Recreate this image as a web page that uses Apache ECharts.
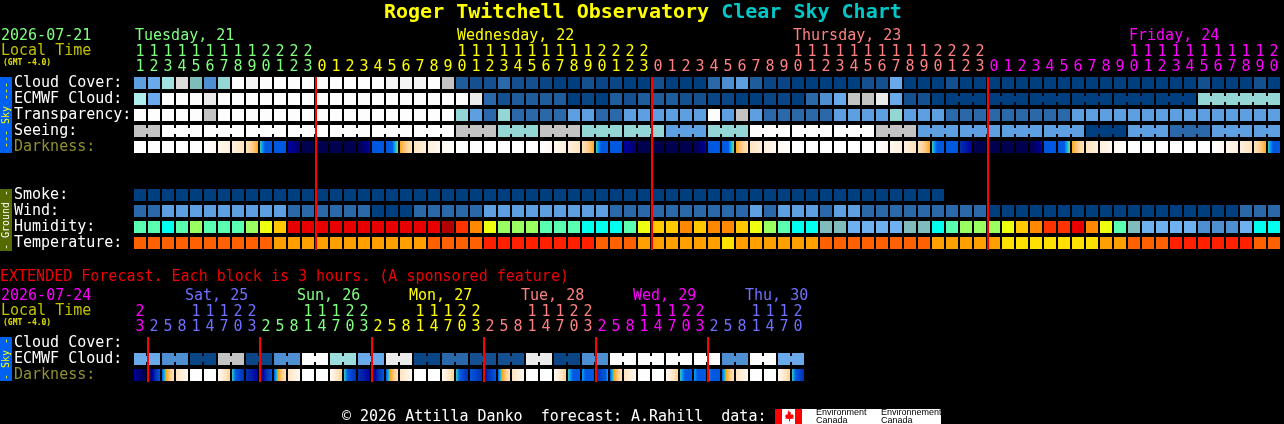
<!DOCTYPE html>
<html><head><meta charset="utf-8">
<style>html,body{margin:0;padding:0;background:#000}#c{width:1284px;height:424px}</style>
<script src="https://cdn.jsdelivr.net/npm/echarts@6/dist/echarts.min.js"></script>
</head><body><div id="c"></div>
<script>
// ---------- values ----------
const topHours=[11,12,13,14,15,16,17,18,19,20,21,22,23,0,1,2,3,4,5,6,7,8,9,10,11,12,13,14,15,16,17,18,19,20,21,22,23,0,1,2,3,4,5,6,7,8,9,10,11,12,13,14,15,16,17,18,19,20,21,22,23,0,1,2,3,4,5,6,7,8,9,10,11,12,13,14,15,16,17,18,19,20];
const extHours=[23,2,5,8,11,14,17,20,23,2,5,8,11,14,17,20,23,2,5,8,11,14,17,20,23,2,5,8,11,14,17,20,23,2,5,8,11,14,17,20,23,2,5,8,11,14,17,20];
const topRows=['Cloud Cover:','ECMWF Cloud:','Transparency:','Seeing:','Darkness:','','','Smoke:','Wind:','Humidity:','Temperature:'];
const extRows=['Cloud Cover:','ECMWF Cloud:','Darkness:'];

const cloudCover=[40,50,65,80,55,30,60,100,90,100,100,100,100,100,100,100,100,100,90,90,90,100,75,
 15,10,10,20,10,10,5,0,0,10,5,5,0,0,
 10,0,0,0,20,30,40,15,5,5,0,0,0,0,0,
 10,10,50,0,0,0,10,0,0,0,0,0,0,0,0,0,0,0,0,0,0,0,0,0,10,0,0,0,10,0];
const ecmwfHourly=[70,50,100,100,100,85,100,100,100,100,100,100,100,100,100,100,100,100,100,100,100,100,100,100,85,
 20,10,15,15,15,15,0,5,0,15,10,15,15,15,10,10,5,5,0,0,5,5,0,20,30,50,75,75,85,50,10,10,0];
const ecmwfBlocks=[0,0,0,0,0,0,60];
const ecmwfBlockSpans=[3,3,3,3,3,3,6];
const transparency=[100,100,100,100,100,75,100,100,100,100,100,100,100,100,100,100,100,100,100,100,100,100,100,
 60,40,20,60,20,20,20,20,40,40,20,20,40,40,40,40,40,40,100,40,75,40,20,20,20,20,20,40,40,40,40,60,40,40,40,
 20,20,20,20,20,20,20,20,20,40,40,40,40,40,40,40,40,40,40,40,40,40,40,40];
const seeingBlocks=[75,100,100,100,100,100,100,100,75,60,75,60,60,40,60,100,100,100,75,40,40,40,40,0,40,20,40,40];
const seeingSpans=[2,3,3,3,3,3,3,3,3,3,3,3,3,3,3,3,3,3,3,3,3,3,3,3,3,3,3,2];
const darkStart=[0,0,0,0,0,0,1,2,3,6,8,10,12,12,12,12,12,8,8,5,3,2,1,0,0,0,0,0,0,0,1,2,3,6,8,10,12,12,12,12,12,8,8,5,3,2,1,0,0,0,0,0,0,0,1,2,3,6,8,9,12,12,12,12,12,8,8,5,3,2,1,0,0,0,0,0,0,0,1,2,3,6];
const darkEnd=[0,0,0,0,0,1,2,3,5,8,8,11,12,12,12,12,10,8,5,3,2,1,0,0,0,0,0,0,0,1,2,3,5,8,8,11,12,12,12,12,10,8,5,3,2,1,0,0,0,0,0,0,0,1,2,3,5,8,8,10,12,12,12,12,10,8,5,3,2,1,0,0,0,0,0,0,0,1,2,3,5,8];
const smoke=[0,0,0,0,0,0,0,0,0,0,0,0,0,0,0,0,0,0,0,0,0,0,0,0,0,0,0,0,0,0,0,0,0,0,0,0,0,0,0,0,0,0,0,0,0,0,0,0,0,0,0,0,0,0,0,0,0,0];
const wind=[10,10,5,5,5,5,5,5,5,5,5,10,10,10,10,10,10,20,20,20,10,10,10,10,10,5,5,5,5,5,5,5,5,5,10,10,10,10,10,10,10,10,10,10,5,10,5,5,5,10,5,5,10,10,10,10,10,10,10,10,10,20,20,20,20,20,20,20,20,20,20,20,20,20,20,20,20,20,20,10,10,10];
const humidity=[52,52,47,52,57,52,52,52,57,62,67,82,82,82,82,82,82,82,82,82,82,82,87,77,72,62,57,57,57,52,52,52,47,47,47,52,62,67,67,72,67,72,72,67,62,57,52,47,47,42,42,37,37,37,37,42,42,47,52,57,57,57,62,67,72,77,77,82,72,62,52,42,37,37,37,37,32,32,32,37,47,47];
const temperature=[21,21,21,21,21,21,21,21,21,21,18,18,18,18,18,18,18,18,18,18,18,21,21,21,21,24,24,24,24,24,24,24,24,21,21,21,18,18,18,18,18,18,15,18,18,18,18,18,18,21,21,21,21,21,21,21,21,18,18,18,18,18,15,15,15,15,15,15,15,18,18,21,21,21,24,24,24,24,24,24,21,21];
const extEcmwfBlocks=[50,30,5,75,5,30,100,62,50,85,5,20,10,10,85,5,30,100,100,100,100,30,100,50];
const extEcmwfSpans=[2,2,2,2,2,2,2,2,2,2,2,2,2,2,2,2,2,2,2,2,2,2,2,2];
const extDarkStart=[10,12,8,3,0,0,1,6,9,11,8,3,0,0,1,6,9,11,8,3,0,0,1,6,8,10,8,3,0,0,1,6,7,9,8,3,0,0,1,6,7,7,8,3,0,0,1,6];
const extDarkEnd=[12,8,3,1,0,0,4,9,10,8,3,1,0,0,4,9,10,8,3,1,0,0,4,9,9,8,3,1,0,0,4,8,8,7,3,1,0,0,4,8,8,8,3,1,0,0,4,9];
const topMidnights=[13,37,61];
const extMidnights=[1,9,17,25,33,41];
const topDayStarts=[0,23,47,71];
const topDayNames=['Tuesday, 21','Wednesday, 22','Thursday, 23','Friday, 24'];
const topDayColors=['#80ff80','#ffff00','#ff8080','#ff00ff'];
const extDayStarts=[4,12,20,28,36,44];
const extDayNames=['Sat, 25','Sun, 26','Mon, 27','Tue, 28','Wed, 29','Thu, 30'];
const extDayColors=['#7070ff','#80ff80','#ffff00','#ff8080','#ff00ff','#7070ff'];

// ---------- colour scales ----------
const cloudScale={0:'#003f7f',5:'#0a4585',10:'#144f8f',15:'#1e5c9c',20:'#2a68aa',30:'#4e8fd1',40:'#5d9fe0',50:'#6aa9ea',55:'#7fbcbc',60:'#94d6d6',62:'#9bdcdc',65:'#a3e0e0',70:'#b0eeee',75:'#c3c3c3',80:'#dcdcdc',85:'#ebebeb',90:'#f4f4f4',100:'#fdfdfd'};
const windScale={5:'#5d9fe0',10:'#2a68aa',20:'#003f7f'};
const humidityScale={32:'#4e8fd1',37:'#6fb0f0',42:'#80bcbc',47:'#00ffee',52:'#5affb0',57:'#9aff60',62:'#eeff10',67:'#ffc800',72:'#ff8800',77:'#ff3300',82:'#e80000',87:'#b00000'};
const tempScale={15:'#ffe000',18:'#ffa000',21:'#ff6000',24:'#ff2000'};
const darkScale=['#ffffff','#fff8ee','#ffefdc','#ffe3c0','#ffcf90','#ffa820','#40c8a0','#0aa0ff','#0058e0','#0030b0','#0000a0','#000070','#000050'];
const darkStepWeight=[1,1,1,1,1,0.35,0.35,0.5,2,1,1,1];
const twilightHold=1.25;

// ---------- helpers ----------
const FONT='"DejaVu Sans Mono",monospace';
function expand(values,spans){const v=[],j=[];values.forEach((x,k)=>{for(let n=0;n<spans[k];n++){v.push(x);j.push(n<spans[k]-1);}});return{v,j};}
function dayColor(i,breaks,colors){let c=colors[0];breaks.forEach((b,k)=>{if(i>=b)c=colors[k];});return c;}
function darkFill(a,b){
 if(a===b)return darkScale[a];
 const dir=b>a?1:-1,seq=[];
 let pos=0;
 const other=a===8?b:(b===8?a:-1);
 const hold=(other>=5&&other<8)?twilightHold:0;
 if(a===8&&hold){seq.push([0,a]);pos+=hold;}
 seq.push([pos,a]);
 for(let l=a;l!==b;l+=dir){pos+=darkStepWeight[Math.min(l,l+dir)];seq.push([pos,l+dir]);}
 if(b===8&&hold){pos+=hold;seq.push([pos,b]);}
 return {type:'linear',x:0,y:0,x2:1,y2:0,colorStops:seq.map(s=>({offset:s[0]/pos,color:darkScale[s[1]]}))};
}
function cellSeries(xIdx,yIdx,row,values,scale,joined){
 return {type:'custom',xAxisIndex:xIdx,yAxisIndex:yIdx,silent:true,animation:false,z:2,
  encode:{x:0,y:1},
  data:values.map((v,i)=>[i,row,v,joined&&joined[i]?1:0]),
  renderItem(p,api){
   const c=api.coord([api.value(0),api.value(1)]),fill=scale[api.value(2)];
   const kids=[{type:'rect',shape:{x:c[0]-6,y:c[1]-6,width:12,height:12},style:{fill}}];
   if(api.value(3))kids.push({type:'rect',shape:{x:c[0]+6,y:c[1]-3,width:2,height:6},style:{fill}});
   return {type:'group',children:kids};
  }};
}
function darkSeries(xIdx,yIdx,row,s,e){
 return {type:'custom',xAxisIndex:xIdx,yAxisIndex:yIdx,silent:true,animation:false,z:2,
  encode:{x:0,y:1},
  data:s.map((v,i)=>[i,row,v,e[i]]),
  renderItem(p,api){
   const c=api.coord([api.value(0),api.value(1)]);
   return {type:'rect',shape:{x:c[0]-6,y:c[1]-6,width:12,height:12},style:{fill:darkFill(api.value(2),api.value(3))}};
  }};
}
function redSeries(xIdx,yIdx,marks,firstRow,lastRow){
 return {type:'custom',xAxisIndex:xIdx,yAxisIndex:yIdx,silent:true,animation:false,z:5,
  encode:{x:0},data:marks.map(m=>[m,firstRow]),
  renderItem(p,api){
   const a=api.coord([api.value(0),firstRow]),b=api.coord([api.value(0),lastRow]);
   return {type:'rect',shape:{x:a[0]-7,y:a[1]-6,width:2,height:b[1]-a[1]+13},style:{fill:'#ff0000'}};
  }};
}
function daySeries(xIdx,yIdx,starts,names,colors,shift){
 return {type:'custom',xAxisIndex:xIdx,yAxisIndex:yIdx,silent:true,animation:false,z:3,
  encode:{x:0},data:starts.map((s,k)=>[s,0,k]),
  renderItem(p,api){
   const c=api.coord([api.value(0),0]),k=api.value(2);
   return {type:'text',x:c[0]+shift,y:c[1]-47,style:{text:names[k],fill:colors[k],font:'15px '+FONT,verticalAlign:'middle',align:'left'}};
  }};
}
function hourAxis(gridIndex,hours,breaks,colors,offset,fmt){
 return {type:'category',gridIndex,position:'top',offset,data:hours.map(String),
  axisLine:{show:false},axisTick:{show:false},splitLine:{show:false},
  axisLabel:{interval:0,hideOverlap:false,margin:0,fontFamily:FONT,fontSize:15,
   formatter:(v)=>fmt(+v),color:(v,i)=>dayColor(i,breaks,colors)}};
}
function rowAxis(gridIndex,rows,margin){
 return {type:'category',gridIndex,inverse:true,data:rows,
  axisLine:{show:false},axisTick:{show:false},splitLine:{show:false},
  axisLabel:{interval:0,hideOverlap:false,align:'left',margin,fontFamily:FONT,fontSize:15,padding:[0,0,6,0],
   color:(v)=>v==='Darkness:'?'#909030':'#ffffff'}};
}
const tens=h=>h>=10?String(Math.floor(h/10)):'';
const units=h=>String(h%10);
function label(x,y,text,fill,size,extra){return Object.assign({type:'text',x,y,silent:true,z:10,
  style:{text,fill,font:(size||'15px')+' '+FONT,align:'left',verticalAlign:'middle'}},extra||{});}
function sideBar(y0,h,bg,text,fill){return [
 {type:'rect',silent:true,z:1,shape:{x:0,y:y0,width:12,height:h},style:{fill:bg}},
 {type:'text',silent:true,z:2,x:6,y:y0+h/2,rotation:Math.PI/2,
  style:{text,fill,font:'10px '+FONT,align:'center',verticalAlign:'middle'}}];}

const topBreaks=[0,13,37,61],topBreakColors=topDayColors;
const extBreaks=[0,1,9,17,25,33,41],extBreakColors=['#ff00ff','#7070ff','#80ff80','#ffff00','#ff8080','#ff00ff','#7070ff'];

const ecmwfTop=expand(ecmwfBlocks,ecmwfBlockSpans);
const seeing=expand(seeingBlocks,seeingSpans);
const extEcmwf=expand(extEcmwfBlocks,extEcmwfSpans);

const chart=echarts.init(document.getElementById('c'),null,{renderer:'canvas',width:1284,height:424,devicePixelRatio:1});
chart.setOption({
 backgroundColor:'#000',animation:false,
 title:{left:384,top:1,padding:0,text:'{a|Roger Twitchell Observatory }{b|Clear Sky Chart}',
  textStyle:{rich:{a:{fontFamily:FONT,fontWeight:'bold',fontSize:20,color:'#ffff00',lineHeight:24},b:{fontFamily:FONT,fontWeight:'bold',fontSize:20,color:'#00c8c8',lineHeight:24}}}},
 grid:[
  {left:133,top:75,width:82*14,height:11*16},
  {left:133,top:335,width:48*14,height:3*16}
 ],
 xAxis:[
  hourAxis(0,topHours,topBreaks,topBreakColors,0,units),
  hourAxis(0,topHours,topBreaks,topBreakColors,15,tens),
  hourAxis(1,extHours,extBreaks,extBreakColors,0,units),
  hourAxis(1,extHours,extBreaks,extBreakColors,15,tens)
 ],
 yAxis:[rowAxis(0,topRows,119),rowAxis(1,extRows,119)],
 series:[
  cellSeries(0,0,0,cloudCover,cloudScale),
  cellSeries(0,0,1,ecmwfHourly.concat(ecmwfTop.v),cloudScale,ecmwfHourly.map(()=>false).concat(ecmwfTop.j)),
  cellSeries(0,0,2,transparency,cloudScale),
  cellSeries(0,0,3,seeing.v,cloudScale,seeing.j),
  darkSeries(0,0,4,darkStart,darkEnd),
  cellSeries(0,0,7,smoke,cloudScale),
  cellSeries(0,0,8,wind,windScale),
  cellSeries(0,0,9,humidity,humidityScale),
  cellSeries(0,0,10,temperature,tempScale),
  redSeries(0,0,topMidnights,0,10),
  daySeries(0,0,topDayStarts,topDayNames,topDayColors,-5),
  cellSeries(2,1,1,extEcmwf.v,cloudScale,extEcmwf.j),
  darkSeries(2,1,2,extDarkStart,extDarkEnd),
  redSeries(2,1,extMidnights,0,2),
  daySeries(2,1,extDayStarts,extDayNames,extDayColors,-11)
 ],
 graphic:[].concat(
  [label(1,36,'2026-07-21','#80ff80'),label(1,51.5,'Local Time','#c0c000'),label(3,62.5,'(GMT -4.0)','#e0e000','bold 8px'),
   label(0,277,'EXTENDED Forecast. Each block is 3 hours. (A sponsored feature)','#f00000'),
   label(1,296,'2026-07-24','#ff00ff'),label(1,311.5,'Local Time','#c0c000'),label(3,322.5,'(GMT -4.0)','#e0e000','bold 8px'),
   label(342,417,'\u00a9 2026 Attilla Danko  forecast: A.Rahill  data:','#ffffff')],
  sideBar(77,76,'#0060f0','--- Sky ---','#ffff00'),
  sideBar(189,62,'#556b00','- Ground -','#ffffff'),
  sideBar(337,44,'#0060f0','- Sky -','#ffff00'),
  [{type:'rect',silent:true,shape:{x:775,y:409,width:166,height:15},style:{fill:'#ffffff'}},
   {type:'rect',silent:true,shape:{x:775,y:409,width:7,height:15},style:{fill:'#ff0000'}},
   {type:'rect',silent:true,shape:{x:795,y:409,width:7,height:15},style:{fill:'#ff0000'}},
   {type:'polygon',silent:true,shape:{points:[[788.5,410],[790,412.5],[791,412],[790.5,415],[792,414],[794,416],[793,417.5],[794,418.5],[790,419],[790,421.5],[789,421.5],[789,419],[785,418.5],[786,417.5],[785,416],[787,414],[788,415],[787.5,412],[788,412.5]]},style:{fill:'#ff0000'}},
   {type:'text',silent:true,x:816,y:413,style:{text:'Environment',fill:'#000',font:'9px "Liberation Sans",sans-serif',verticalAlign:'middle',align:'left'}},
   {type:'text',silent:true,x:816,y:421,style:{text:'Canada',fill:'#000',font:'9px "Liberation Sans",sans-serif',verticalAlign:'middle',align:'left'}},
   {type:'text',silent:true,x:881,y:413,style:{text:'Environnement',fill:'#000',font:'9px "Liberation Sans",sans-serif',verticalAlign:'middle',align:'left'}},
   {type:'text',silent:true,x:881,y:421,style:{text:'Canada',fill:'#000',font:'9px "Liberation Sans",sans-serif',verticalAlign:'middle',align:'left'}}]
 )
});
</script></body></html>
